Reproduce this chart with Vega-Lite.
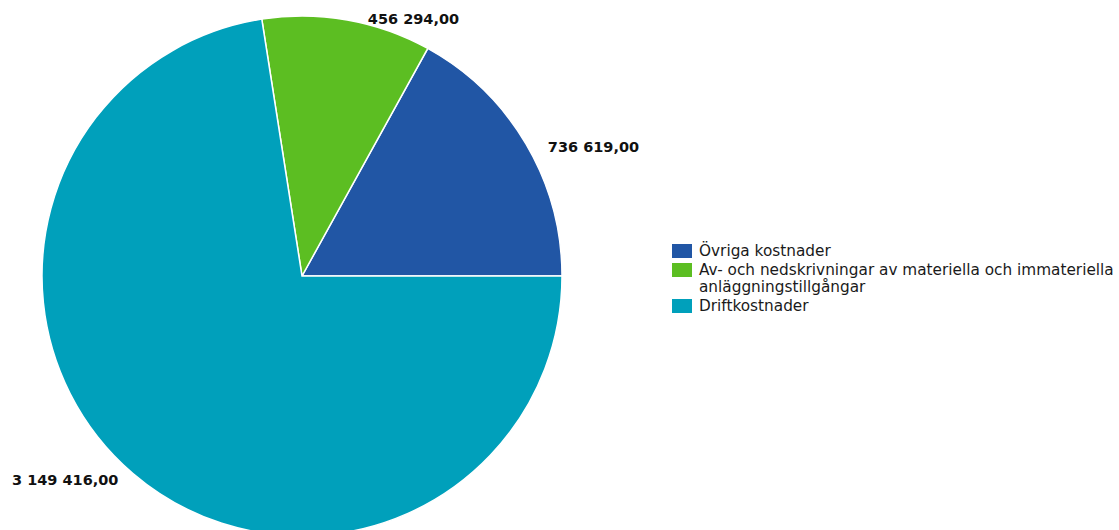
{
  "$schema": "https://vega.github.io/schema/vega-lite/v6.json",
  "width": 604,
  "height": 552,
  "padding": 0,
  "background": "white",
  "config": {
    "view": {"stroke": null},
    "locale": {"number": {"decimal": ",", "thousands": " ", "grouping": [3], "currency": ["", ""]}},
    "font": "DejaVu Sans"
  },
  "data": {
    "values": [
      {"kategori": "Övriga kostnader", "belopp": 736619, "ordning": 1},
      {"kategori": "Av- och nedskrivningar av materiella och immateriella anläggningstillgångar", "belopp": 456294, "ordning": 2},
      {"kategori": "Driftkostnader", "belopp": 3149416, "ordning": 3}
    ]
  },
  "encoding": {
    "theta": {"field": "belopp", "type": "quantitative", "stack": true, "scale": {"range": [1.5707963, -4.712389]}},
    "order": {"field": "ordning", "type": "quantitative"}
  },
  "layer": [
    {
      "mark": {"type": "arc", "radius": 260, "stroke": "white", "strokeWidth": 1.5},
      "encoding": {
        "color": {
          "field": "kategori",
          "type": "nominal",
          "sort": ["Övriga kostnader", "Av- och nedskrivningar av materiella och immateriella anläggningstillgångar", "Driftkostnader"],
          "scale": {
            "domain": ["Övriga kostnader", "Av- och nedskrivningar av materiella och immateriella anläggningstillgångar", "Driftkostnader"],
            "range": ["#2156A5", "#5CBE22", "#00A0BB"]
          },
          "legend": {
            "title": null,
            "orient": "none",
            "legendX": 672,
            "legendY": 241,
            "symbolType": "M-1,-0.7H1V0.7H-1Z",
            "symbolSize": 400,
            "symbolStrokeWidth": 0,
            "labelFont": "DejaVu Sans",
            "labelFontSize": 15.3,
            "labelColor": "#1a1a1a",
            "labelOffset": 7,
            "labelLimit": 600,
            "rowPadding": 0,
            "labelExpr": "datum.value == 'Av- och nedskrivningar av materiella och immateriella anläggningstillgångar' ? ['Av- och nedskrivningar av materiella och immateriella', 'anläggningstillgångar'] : datum.label"
          }
        }
      }
    },
    {
      "mark": {"type": "text", "radius": 275, "align": "left", "baseline": "middle", "dx": 9, "dy": 12, "fontWeight": "bold", "fontSize": 14.5, "color": "#111"},
      "encoding": {"text": {"condition": {"test": "datum.ordning == 1", "field": "belopp", "type": "quantitative", "format": ",.2f"}, "value": ""}}
    },
    {
      "mark": {"type": "text", "radius": 275, "align": "left", "baseline": "middle", "dx": 18, "dy": 15, "fontWeight": "bold", "fontSize": 14.5, "color": "#111"},
      "encoding": {"text": {"condition": {"test": "datum.ordning == 2", "field": "belopp", "type": "quantitative", "format": ",.2f"}, "value": ""}}
    },
    {
      "mark": {"type": "text", "radius": 270, "align": "right", "baseline": "middle", "dx": -8, "dy": 0, "fontWeight": "bold", "fontSize": 14.5, "color": "#111"},
      "encoding": {"text": {"condition": {"test": "datum.ordning == 3", "field": "belopp", "type": "quantitative", "format": ",.2f"}, "value": ""}}
    }
  ]
}
